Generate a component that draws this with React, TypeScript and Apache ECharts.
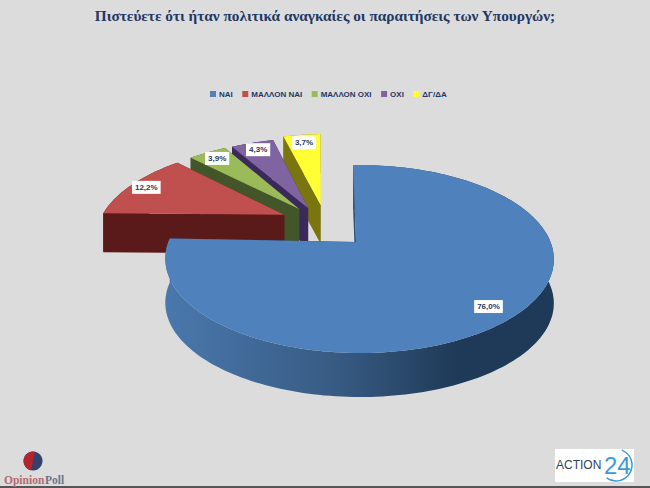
import React, { useEffect, useRef } from "react";
import * as echarts from "echarts";

const TITLE = "Πιστεύετε ότι ήταν πολιτικά αναγκαίες οι παραιτήσεις των Υπουργών;";
const categories = ["ΝΑΙ", "ΜΑΛΛΟΝ ΝΑΙ", "ΜΑΛΛΟΝ ΟΧΙ", "ΟΧΙ", "ΔΓ/ΔΑ"];
const values = [76.0, 12.2, 3.9, 4.3, 3.7];
const labels = ["76,0%", "12,2%", "3,9%", "4,3%", "3,7%"];

const topColors = ["#4f81bd", "#c0504d", "#9bbb59", "#8064a2", "#ffff33"];
const wallColors = ["#2b4a6e", "#5a1a1a", "#43562a", "#3a2a5c", "#7b7510"];
// slice displacement on the pie's plane, radius scale, rotation and wall depth of each slice
const explode = [[0, 0], [-0.4, -0.32], [-0.32, -0.39], [-0.27, -0.4], [-0.2, -0.44]];
const radiusScale = [1, 1.04, 1.05, 1.06, 1.08];
const rotationDeg = [-1, -2, -2, -2, -2];
const wallDepth = [44, 39, 39, 39, 39];
const labelRadius = [0.87, 0.9, 0.88, 0.88, 0.87];

const APEX_X = 356, APEX_Y = 242, A = 191, B = 90.9, P = -0.181, Q = -0.018;
const proj = (u: number, v: number): number[] => {
  const w = 1 + P * v + Q * u;
  return [APEX_X + (A * u) / w, APEX_Y + (B * v) / w];
};
const total = values.reduce((a, b) => a + b, 0);
const startOf = (i: number) => values.slice(0, i).reduce((a, b) => a + b, 0);

function renderSlice(i: number) {
  return (_params: any, api: any) => {
    const value = api.value(0);
    const rot = (rotationDeg[i] * Math.PI) / 180;
    const a0 = rot + (startOf(i) / total) * Math.PI * 2;
    const a1 = a0 + (value / total) * Math.PI * 2;
    const [ox, oy] = explode[i];
    const s = radiusScale[i];
    const pt = (a: number, r: number) => proj(ox + s * r * Math.sin(a), oy - s * r * Math.cos(a));
    const steps = Math.max(6, Math.round((a1 - a0) * 40));
    const arc: number[][] = [];
    for (let k = 0; k <= steps; k++) arc.push(pt(a0 + ((a1 - a0) * k) / steps, 1));
    const apex = proj(ox, oy);
    const down = (p: number[]) => [p[0], p[1] + wallDepth[i]];
    const wallPoly = (pts: number[][]) => [...pts, ...pts.slice().reverse().map(down)];
    const wallFill =
      i === 0
        ? new echarts.graphic.LinearGradient(0, 0, 1, 0, [
            { offset: 0, color: "#4a78ad" },
            { offset: 0.45, color: "#375a82" },
            { offset: 0.75, color: "#1f3a58" },
            { offset: 1, color: "#1f3a58" },
          ])
        : wallColors[i];
    const poly = (points: number[][], fill: any) => ({
      type: "polygon",
      shape: { points },
      style: { fill, stroke: "none" },
    });
    const mid = (a0 + a1) / 2;
    const lp = pt(mid, labelRadius[i]);
    return {
      type: "group",
      children: [
        poly(wallPoly([apex, arc[arc.length - 1]]), wallColors[i]),
        poly(wallPoly([apex, arc[0]]), wallColors[i]),
        poly(wallPoly(arc), wallFill),
        poly([apex, ...arc], topColors[i]),
        {
          type: "text",
          x: lp[0],
          y: lp[1],
          z2: 10,
          style: {
            text: labels[i],
            fill: "#1f3864",
            font: "bold 8px 'Liberation Sans'",
            align: "center",
            verticalAlign: "middle",
            backgroundColor: "#ffffff",
            padding: [3, 3, 2, 3],
          },
        },
      ],
    };
  };
}

export default function App() {
  const ref = useRef<HTMLDivElement>(null);
  useEffect(() => {
    document.body.style.margin = "0";
    const chart = echarts.init(ref.current!, undefined, { renderer: "svg" });
    const order = [4, 3, 2, 1, 0];
    chart.setOption({
      animation: false,
      backgroundColor: "#dcdcdc",
      title: {
        text: TITLE,
        left: "center",
        top: 3,
        textStyle: { fontFamily: "Liberation Serif", fontWeight: "bold", fontSize: 15.3, color: "#1f3864" },
      },
      legend: {
        data: categories,
        top: 85,
        left: 205,
        icon: "rect",
        itemWidth: 6,
        itemHeight: 6,
        itemGap: 9.5,
        textStyle: { fontFamily: "Liberation Sans", fontWeight: "bold", fontSize: 8, color: "#1f3864", padding: [0, 0, 0, -2] },
        selectedMode: false,
      },
      series: order.map((i) => ({
        type: "custom",
        name: categories[i],
        coordinateSystem: "none",
        itemStyle: { color: topColors[i] },
        data: [[values[i]]],
        renderItem: renderSlice(i),
        silent: true,
      })),
      graphic: [
        { type: "rect", shape: { x: 0, y: 486, width: 650, height: 2 }, style: { fill: "#555555" } },
        { type: "circle", shape: { cx: 33, cy: 461, r: 9.5 }, style: { fill: "#34406e" } },
        { type: "sector", shape: { cx: 33, cy: 461, r: 9.5, startAngle: 1.75, endAngle: 4.9 }, style: { fill: "#b3242c" } },
        { type: "text", x: 4, y: 474, style: { text: "Opinion", fill: "#b56a70", font: "bold 11.5px 'Liberation Serif'" } },
        { type: "text", x: 45, y: 474, style: { text: "Poll", fill: "#6f7488", font: "bold 11.5px 'Liberation Serif'" } },
        { type: "rect", shape: { x: 555, y: 449, width: 79, height: 33 }, style: { fill: "#ffffff" } },
        { type: "text", x: 556, y: 459, style: { text: "ACTION", fill: "#2f3f5f", font: "12px 'Liberation Sans'" } },
        { type: "text", x: 604, y: 453, style: { text: "24", fill: "#3b9ad6", font: "24px 'Liberation Sans'" } },
        { type: "arc", shape: { cx: 616, cy: 465, r: 16, startAngle: -1.2, endAngle: 2.2 }, style: { stroke: "#3b9ad6", lineWidth: 1.5, fill: "none" } },
      ],
    });
    return () => chart.dispose();
  }, []);
  return <div ref={ref} style={{ width: 650, height: 488 }} />;
}
